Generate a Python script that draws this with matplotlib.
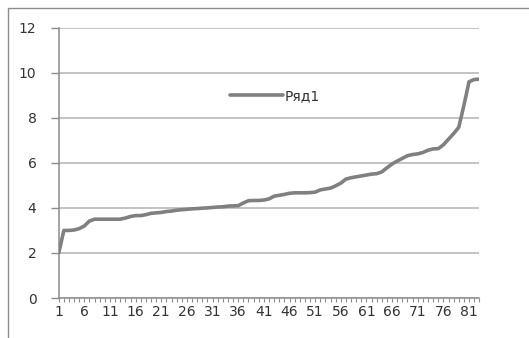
import matplotlib

matplotlib.use("Agg")
import matplotlib.pyplot as plt
from matplotlib.patches import Rectangle

# ---------------------------------------------------------------------------
# Data: sorted series "Ряд1", one value per category 1..83
# ---------------------------------------------------------------------------
series_name = "Ряд1"
values = [
    2.00, 3.00, 3.00, 3.02, 3.08, 3.20, 3.42, 3.50, 3.50, 3.50,
    3.50, 3.50, 3.50, 3.55, 3.62, 3.66, 3.66, 3.70, 3.76, 3.78,
    3.80, 3.84, 3.86, 3.90, 3.92, 3.94, 3.96, 3.97, 3.99, 4.00,
    4.02, 4.04, 4.05, 4.08, 4.09, 4.10, 4.22, 4.32, 4.33, 4.33,
    4.35, 4.40, 4.52, 4.56, 4.60, 4.65, 4.67, 4.67, 4.67, 4.68,
    4.70, 4.80, 4.84, 4.88, 4.98, 5.10, 5.28, 5.34, 5.38, 5.42,
    5.46, 5.50, 5.52, 5.60, 5.78, 5.95, 6.08, 6.20, 6.32, 6.37,
    6.40, 6.46, 6.56, 6.62, 6.63, 6.80, 7.05, 7.30, 7.58, 8.55,
    9.60, 9.70, 9.72,
]
categories = list(range(1, len(values) + 1))
label_step = 5
y_ticks = [0, 2, 4, 6, 8, 10, 12]

LINE = "#808080"
GRID = "#b3b3b3"
AXIS = "#8c8c8c"
TEXT = "#333333"

fig = plt.figure(figsize=(5.29, 3.38), dpi=100)
ax = fig.add_axes([0.111, 0.1183, 0.795, 0.7997])

# chart-area frame (runs off the right and bottom edges)
fig.add_artist(
    Rectangle((0.0151, -0.2), 1.2, 1.176, transform=fig.transFigure,
              fill=False, edgecolor=AXIS, linewidth=1.0)
)

ax.plot(categories, values, color=LINE, linewidth=2.6,
        solid_joinstyle="round", solid_capstyle="round",
        label=series_name, zorder=3)

ax.set_xlim(categories[0], categories[-1])
ax.set_ylim(y_ticks[0], y_ticks[-1])

ax.set_yticks(y_ticks)
ax.yaxis.grid(True, color=GRID, linewidth=1.1)
ax.set_axisbelow(True)

ax.set_xticks(categories)
ax.set_xticklabels(
    [str(c) if (c - 1) % label_step == 0 else "" for c in categories]
)

for side in ("top", "right"):
    ax.spines[side].set_visible(False)
for side in ("left", "bottom"):
    ax.spines[side].set_color(AXIS)
    ax.spines[side].set_linewidth(1.1)

ax.tick_params(axis="y", length=6, width=1.0, color=AXIS, pad=10,
               labelsize=10, labelcolor=TEXT)
ax.tick_params(axis="x", length=3, width=0.8, color=AXIS, pad=2,
               labelsize=10, labelcolor=TEXT)

ax.legend(loc="center left", bbox_to_anchor=(0.407, 0.747),
          frameon=False, borderpad=0, borderaxespad=0,
          handlelength=3.8, handletextpad=0.15, fontsize=10,
          labelcolor=TEXT)

fig.savefig("out.png", dpi=100)
plt.close(fig)
